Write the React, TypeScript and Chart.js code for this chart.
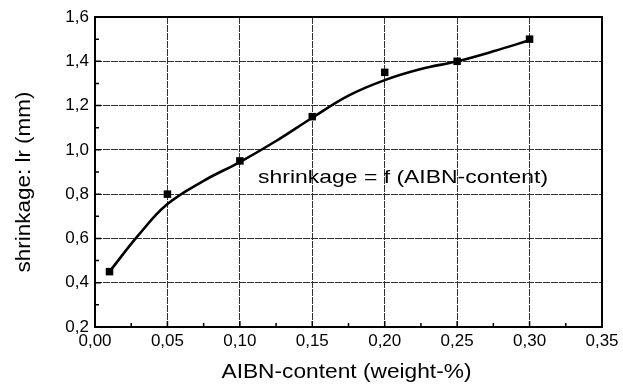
import { useEffect, useRef } from 'react';
import { Chart, registerables } from 'chart.js';

Chart.register(...registerables);

// Measured data (squares)
const measuredX = [0.01, 0.05, 0.10, 0.15, 0.20, 0.25, 0.30];
const measuredY = [0.45, 0.80, 0.95, 1.15, 1.35, 1.40, 1.50];

// Fitted curve
const fitX = [0.01, 0.03, 0.05, 0.075, 0.10, 0.125, 0.15, 0.175, 0.20, 0.225, 0.25, 0.275, 0.30];
const fitY = [0.45, 0.615, 0.755, 0.86, 0.945, 1.04, 1.145, 1.245, 1.315, 1.365, 1.40, 1.445, 1.495];

const xTickValues = [0, 0.05, 0.10, 0.15, 0.20, 0.25, 0.30, 0.35];
const yTickValues = [0.2, 0.4, 0.6, 0.8, 1.0, 1.2, 1.4, 1.6];

const xTitle = 'AIBN-content (weight-%)';
const yTitle = 'shrinkage: lr (mm)';
const annotationText = 'shrinkage = f (AIBN-content)';
const annotationAt = { x: 0.1126, y: 0.875 };

const FONT = '"Liberation Sans", Arial, Helvetica, sans-serif';

function drawStretched(ctx: CanvasRenderingContext2D, text: string, cx: number, cy: number, size: number, targetWidth: number, rotate: boolean, align: 'center' | 'left') {
  ctx.save();
  ctx.font = `${size}px ${FONT}`;
  ctx.fillStyle = '#000';
  ctx.textBaseline = 'middle';
  const w = ctx.measureText(text).width;
  const sx = targetWidth / w;
  ctx.translate(cx, cy);
  if (rotate) ctx.rotate(-Math.PI / 2);
  ctx.scale(sx, 1);
  ctx.textAlign = align;
  ctx.fillText(text, 0, 0);
  ctx.restore();
}

const framePlugin = {
  id: 'frameAndText',
  afterDatasetsDraw(chart: any) {
    const ctx: CanvasRenderingContext2D = chart.ctx;
    const { left, right, top, bottom } = chart.chartArea;
    const xs = chart.scales.x;
    const ys = chart.scales.y;
    ctx.save();
    ctx.strokeStyle = '#000';
    ctx.lineWidth = 1.5;
    ctx.beginPath();
    for (let i = 0; i < xTickValues.length; i++) {
      const v = xTickValues[i];
      const px = xs.getPixelForValue(v);
      ctx.moveTo(px, bottom);
      ctx.lineTo(px, bottom - 6);
      if (i < xTickValues.length - 1) {
        const m = xs.getPixelForValue((v + xTickValues[i + 1]) / 2);
        ctx.moveTo(m, bottom);
        ctx.lineTo(m, bottom - 4);
      }
    }
    for (let i = 0; i < yTickValues.length; i++) {
      const v = yTickValues[i];
      const py = ys.getPixelForValue(v);
      ctx.moveTo(left, py);
      ctx.lineTo(left + 6, py);
      if (i < yTickValues.length - 1) {
        const m = ys.getPixelForValue((v + yTickValues[i + 1]) / 2);
        ctx.moveTo(left, m);
        ctx.lineTo(left + 4, m);
      }
    }
    ctx.stroke();
    ctx.lineWidth = 2;
    ctx.strokeRect(left, top, right - left, bottom - top);
    ctx.restore();

    const ax = xs.getPixelForValue(annotationAt.x);
    const ay = ys.getPixelForValue(annotationAt.y);
    drawStretched(ctx, annotationText, ax, ay, 19, 290, false, 'left');
    drawStretched(ctx, xTitle, (left + right) / 2 - 2, 372, 21, 250, false, 'center');
    drawStretched(ctx, yTitle, 24, 182, 20, 181, true, 'center');
  },
};

export default function App() {
  const ref = useRef<HTMLCanvasElement | null>(null);
  useEffect(() => {
    document.body.style.margin = '0';
    const canvas = ref.current!;
    const chart = new Chart(canvas, {
      type: 'scatter',
      data: {
        datasets: [
          {
            type: 'line',
            label: 'fit',
            data: fitX.map((x, i) => ({ x, y: fitY[i] })),
            borderColor: '#000',
            borderWidth: 2.6,
            pointRadius: 0,
            tension: 0.4,
            fill: false,
          } as any,
          {
            label: 'measured',
            data: measuredX.map((x, i) => ({ x, y: measuredY[i] })),
            backgroundColor: '#000',
            borderColor: '#000',
            pointStyle: 'rect',
            pointRadius: 5.3,
            borderWidth: 0,
          },
        ],
      },
      options: {
        animation: false,
        responsive: false,
        layout: { padding: { top: 17, right: 21, left: 0, bottom: 0 } },
        plugins: { legend: { display: false }, tooltip: { enabled: false } },
        scales: {
          x: {
            type: 'linear',
            min: 0,
            max: 0.35,
            afterBuildTicks: (scale: any) => {
              scale.ticks = xTickValues.map((v) => ({ value: v }));
            },
            afterFit: (scale: any) => {
              scale.height = 60;
            },
            ticks: {
              padding: 4,
              color: '#000',
              font: { family: FONT, size: 17 },
              maxRotation: 0,
              callback: (v: any) => Number(v).toFixed(2).replace('.', ','),
            },
            grid: {
              color: '#333',
              lineWidth: 1,
              drawTicks: false,
            },
            border: { display: false, dash: [7, 1] },
          },
          y: {
            type: 'linear',
            min: 0.2,
            max: 1.6,
            afterBuildTicks: (scale: any) => {
              scale.ticks = yTickValues.map((v) => ({ value: v }));
            },
            afterFit: (scale: any) => {
              scale.width = 95;
            },
            ticks: {
              padding: 6,
              color: '#000',
              font: { family: FONT, size: 17 },
              callback: (v: any) => Number(v).toFixed(1).replace('.', ','),
            },
            grid: {
              color: '#333',
              lineWidth: 1,
              drawTicks: false,
            },
            border: { display: false, dash: [7, 1] },
          },
        },
      },
      plugins: [framePlugin],
    });
    return () => chart.destroy();
  }, []);
  return (
    <div style={{ position: 'absolute', left: 0, top: 0, width: 623, height: 387, background: '#fff' }}>
      <canvas ref={ref} width={623} height={387} />
    </div>
  );
}
